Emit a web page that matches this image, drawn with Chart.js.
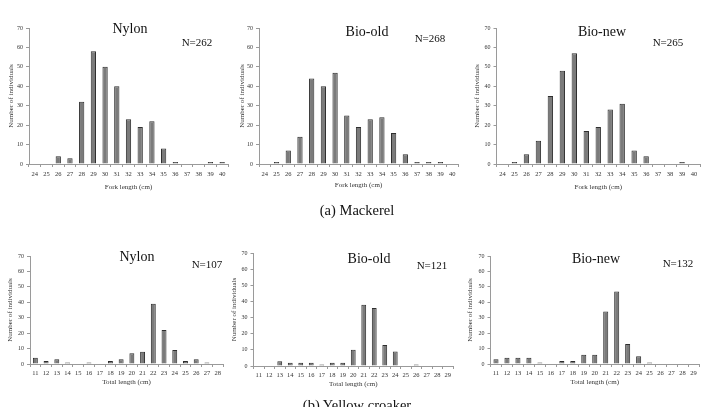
<!DOCTYPE html>
<html>
<head>
<meta charset="utf-8">
<script src="https://cdn.jsdelivr.net/npm/chart.js@4/dist/chart.umd.min.js"></script>
<style>
  html, body { margin: 0; padding: 0; background: #fff; }
  body { width: 701px; height: 407px; overflow: hidden; position: relative; font-family: "Liberation Serif", "Times New Roman", serif; }
  canvas { position: absolute; left: 0; top: 0; }
  .lbl { position: absolute; transform: translate(-50%, -50%); white-space: nowrap; color: #111; line-height: 1; }
  .ttl { font-size: 14px; }
  .nn { font-size: 11px; }
  .cap { font-size: 14.5px; }
</style>
</head>
<body>
<script>
// ---- Data ----
const mackerelLengths = ["24","25","26","27","28","29","30","31","32","33","34","35","36","37","38","39","40"];
const mackerelNylon   = [0, 0, 4, 3, 32, 58, 50, 40, 23, 19, 22, 8, 1, 0, 0, 1, 1];
const mackerelBioOld  = [0, 1, 7, 14, 44, 40, 47, 25, 19, 23, 24, 16, 5, 1, 1, 1, 0];
const mackerelBioNew  = [0, 1, 5, 12, 35, 48, 57, 17, 19, 28, 31, 7, 4, 0, 0, 1, 0];

const croakerLengthsNylon = ["11","12","13","14","15","16","17","18","19","20","21","22","23","24","25","26","27","28"];
const croakerLengthsBio   = ["11","12","13","14","15","16","17","18","19","20","21","22","23","24","25","26","27","28","29"];
const croakerNylon  = [4, 2, 3, 1, 0, 1, 0, 2, 3, 7, 8, 39, 22, 9, 2, 3, 1, 0];
const croakerBioOld = [0, 0, 3, 2, 2, 2, 1, 2, 2, 10, 38, 36, 13, 9, 0, 1, 0, 0, 0];
const croakerBioNew = [3, 4, 4, 4, 1, 0, 2, 2, 6, 6, 34, 47, 13, 5, 1, 0, 0, 0, 0];

const panelTitles = ["Nylon", "Bio-old", "Bio-new", "Nylon", "Bio-old", "Bio-new"];
const sampleSizes = ["N=262", "N=268", "N=265", "N=107", "N=121", "N=132"];
const xTitles = ["Fork length (cm)", "Fork length (cm)", "Fork length (cm)", "Total length (cm)", "Total length (cm)", "Total length (cm)"];
const yTitle = "Number of individuals";
const captions = ["(a)  Mackerel", "(b)  Yellow  croaker"];

// ---- Layout ----
const W = 701, H = 407;
const FONT = '"Liberation Serif", "Times New Roman", serif';
const panels = [
  { labels: mackerelLengths, values: mackerelNylon,  L: 29,    R: 228, T: 28,  B: 164, yTx: 8,   xTy: 187, tickPad: 3, bp: 0.45, title: [130, 29],  n: [197, 42] },
  { labels: mackerelLengths, values: mackerelBioOld, L: 259,   R: 458, T: 28,  B: 164, yTx: 9,   xTy: 185, tickPad: 3, bp: 0.45, title: [367, 32],  n: [430, 38] },
  { labels: mackerelLengths, values: mackerelBioNew, L: 496.5, R: 700, T: 28,  B: 164, yTx: 7,   xTy: 187, tickPad: 3, bp: 0.45, title: [602, 32],  n: [668, 42] },
  { labels: croakerLengthsNylon, values: croakerNylon,  L: 30,    R: 223, T: 256, B: 364, yTx: 6,  xTy: 382, tickPad: 2, bp: 0.46, title: [137, 257], n: [207, 264] },
  { labels: croakerLengthsBio,   values: croakerBioOld, L: 253.5, R: 453, T: 253, B: 366, yTx: 7,  xTy: 384, tickPad: 2, bp: 0.46, title: [369, 259], n: [432, 265] },
  { labels: croakerLengthsBio,   values: croakerBioNew, L: 490.5, R: 699, T: 256, B: 364, yTx: 6,  xTy: 382, tickPad: 2, bp: 0.46, title: [596, 259], n: [678, 263] }
];

const YW = 26;   // fixed y-axis box width
const XH = 30;   // fixed x-axis box height
const yTitleFont = 7, xTitleFont = 7;

function addLabel(text, x, y, cls) {
  const d = document.createElement('div');
  d.className = 'lbl ' + cls;
  d.textContent = text;
  d.style.left = x + 'px';
  d.style.top = y + 'px';
  document.body.appendChild(d);
}

panels.forEach((p, i) => {
  const c = document.createElement('canvas');
  c.width = W; c.height = H;
  c.style.width = W + 'px'; c.style.height = H + 'px';
  document.body.appendChild(c);

  const yLH = yTitleFont * 1.2, xLH = xTitleFont * 1.2;
  const scaleBottom = p.B + XH;

  new Chart(c.getContext('2d'), {
    type: 'bar',
    data: {
      labels: p.labels,
      datasets: [{
        data: p.values,
        backgroundColor: '#7b7b7b',
        borderColor: '#2e2e2e',
        borderWidth: (ctx) => (ctx.raw ? 1 : 0),
        barPercentage: p.bp,
        categoryPercentage: 1.0
      }]
    },
    options: {
      responsive: false,
      animation: false,
      events: [],
      layout: {
        padding: { left: p.L - YW, right: W - p.R, top: p.T, bottom: H - p.B - XH }
      },
      plugins: { legend: { display: false }, title: { display: false }, tooltip: { enabled: false } },
      scales: {
        x: {
          offset: true,
          grid: { display: true, drawOnChartArea: false, drawTicks: true, tickLength: 3, color: '#9a9a9a', offset: true },
          border: { color: '#9a9a9a', width: 1 },
          ticks: { font: { family: FONT, size: 6.5 }, color: '#333', padding: p.tickPad, maxRotation: 0, autoSkip: false },
          title: { display: true, text: xTitles[i], font: { family: FONT, size: xTitleFont }, color: '#333',
                   padding: { top: 0, bottom: Math.max(0, scaleBottom - p.xTy - xLH / 2) } },
          afterFit: (s) => { s.height = XH; }
        },
        y: {
          min: 0, max: 70,
          ticks: { stepSize: 10, font: { family: FONT, size: 6 }, color: '#333', padding: 3 },
          grid: { display: true, drawOnChartArea: false, drawTicks: true, tickLength: 3, color: '#9a9a9a' },
          border: { color: '#9a9a9a', width: 1 },
          title: { display: true, text: yTitle, font: { family: FONT, size: yTitleFont }, color: '#333',
                   padding: { top: Math.max(0, p.yTx - yLH / 2), bottom: 0 } },
          afterFit: (s) => { s.width = YW; }
        }
      }
    }
  });

  addLabel(panelTitles[i], p.title[0], p.title[1], 'ttl');
  addLabel(sampleSizes[i], p.n[0], p.n[1], 'nn');
});

addLabel(captions[0], 357, 210, 'cap');
addLabel(captions[1], 357, 405, 'cap');
</script>
</body>
</html>
